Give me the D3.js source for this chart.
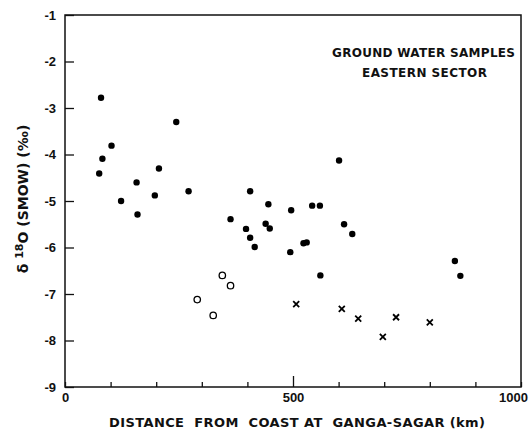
<!DOCTYPE html>
<html>
<head>
<meta charset="utf-8">
<script src="https://cdn.jsdelivr.net/npm/d3@7"></script>
<style>
  html, body { margin: 0; padding: 0; background: #fff; }
  svg { display: block; font-family: "DejaVu Sans", "Liberation Sans", sans-serif; }
</style>
</head>
<body>
<div id="chart"></div>
<script>
// delta-18O of eastern sector ground water against distance from the coast
var filledDist = [79, 244, 102, 82, 75, 206, 157, 197, 271, 123, 159, 406, 363, 397, 440, 449,
  446, 496, 406, 601, 542, 559, 416, 494, 523, 530, 612, 630, 560, 855, 867];
var filledO18 = [-2.78, -3.30, -3.81, -4.09, -4.41, -4.30, -4.60, -4.88, -4.79, -5.00, -5.29, -4.79,
  -5.39, -5.60, -5.49, -5.59, -5.07, -5.20, -5.79, -4.13, -5.10, -5.10, -5.99, -6.10, -5.91, -5.89,
  -5.50, -5.71, -6.60, -6.29, -6.61];

var openDist = [290, 325, 345, 363];
var openO18 = [-7.12, -7.46, -6.60, -6.82];

var crossDist = [507, 607, 643, 697, 726, 800];
var crossO18 = [-7.22, -7.32, -7.53, -7.92, -7.50, -7.61];

var yTicks = [-1, -2, -3, -4, -5, -6, -7, -8, -9];
var xTicks = [0, 100, 200, 300, 400, 500, 600, 700, 800, 900, 1000];
var xLabelled = [0, 500, 1000];

(function () {
  "use strict";

  var width = 532, height = 438;
  var margin = { top: 15, right: 11, bottom: 51, left: 65 };
  var w = width - margin.left - margin.right;
  var h = height - margin.top - margin.bottom;

  var svg = d3.select("#chart").append("svg")
    .attr("width", width)
    .attr("height", height);

  var g = svg.append("g")
    .attr("transform", "translate(" + margin.left + "," + margin.top + ")");

  var x = d3.scaleLinear().domain([0, 1000]).range([0, w]);
  var y = d3.scaleLinear().domain([-9, -1]).range([h, 0]);

  // frame
  g.append("rect")
    .attr("width", w)
    .attr("height", h)
    .attr("fill", "none")
    .attr("stroke", "#111")
    .attr("stroke-width", 1.5);

  // y axis, ticks pointing inward
  var yAxis = g.append("g")
    .call(d3.axisLeft(y)
      .tickValues(yTicks)
      .tickSize(-9)
      .tickPadding(9)
      .tickFormat(function (d) { return "-" + Math.abs(d); }));
  yAxis.select(".domain").remove();
  yAxis.selectAll("line").attr("stroke", "#111").attr("stroke-width", 1.3);
  yAxis.selectAll("text")
    .attr("fill", "#111")
    .attr("font-size", 13)
    .attr("font-weight", "bold");

  // x axis, ticks pointing up, long tick at 500
  var xAxis = g.append("g")
    .attr("transform", "translate(0," + h + ")")
    .call(d3.axisBottom(x)
      .tickValues(xTicks)
      .tickSize(0)
      .tickPadding(6)
      .tickFormat(function (d) { return xLabelled.indexOf(d) >= 0 ? d : ""; }));
  xAxis.select(".domain").remove();
  xAxis.selectAll(".tick line")
    .attr("y2", function (d) { return d === 500 ? -11 : -5; })
    .attr("stroke", "#111")
    .attr("stroke-width", 1.3);
  xAxis.selectAll("text")
    .attr("fill", "#111")
    .attr("font-size", 13)
    .attr("font-weight", "bold")
    .attr("dx", function (d) { return d === 1000 ? -8 : 0; });

  // points
  var filled = filledDist.map(function (d, i) { return [d, filledO18[i]]; });
  var open = openDist.map(function (d, i) { return [d, openO18[i]]; });
  var cross = crossDist.map(function (d, i) { return [d, crossO18[i]]; });

  g.append("g").selectAll("circle")
    .data(filled)
    .join("circle")
    .attr("cx", function (d) { return x(d[0]); })
    .attr("cy", function (d) { return y(d[1]); })
    .attr("r", 3.2)
    .attr("fill", "#000");

  g.append("g").selectAll("circle")
    .data(open)
    .join("circle")
    .attr("cx", function (d) { return x(d[0]); })
    .attr("cy", function (d) { return y(d[1]); })
    .attr("r", 3.2)
    .attr("fill", "#fff")
    .attr("stroke", "#000")
    .attr("stroke-width", 1.3);

  g.append("g").selectAll("path")
    .data(cross)
    .join("path")
    .attr("transform", function (d) { return "translate(" + x(d[0]) + "," + y(d[1]) + ")"; })
    .attr("d", "M-3,-3L3,3M-3,3L3,-3")
    .attr("stroke", "#000")
    .attr("stroke-width", 1.8);

  // note in the top right corner
  var note = g.append("g")
    .attr("font-size", 12)
    .attr("font-weight", "bold")
    .attr("fill", "#111");
  note.append("text")
    .attr("x", 332 - margin.left).attr("y", 42)
    .attr("textLength", 183).attr("lengthAdjust", "spacing")
    .text("GROUND WATER SAMPLES");
  note.append("text")
    .attr("x", 362 - margin.left).attr("y", 62)
    .attr("textLength", 125).attr("lengthAdjust", "spacing")
    .text("EASTERN SECTOR");

  // axis titles
  svg.append("text")
    .attr("x", 109)
    .attr("y", 427)
    .attr("font-size", 13)
    .attr("font-weight", "bold")
    .attr("fill", "#111")
    .attr("textLength", 376)
    .attr("lengthAdjust", "spacing")
    .attr("xml:space", "preserve")
    .text("DISTANCE  FROM  COAST AT  GANGA-SAGAR (km)");

  var yt = svg.append("text")
    .attr("transform", "translate(28,199) rotate(-90)")
    .attr("text-anchor", "middle")
    .attr("font-size", 14)
    .attr("font-weight", "bold")
    .attr("fill", "#111");
  yt.append("tspan").text("δ ");
  yt.append("tspan").attr("font-size", 11).attr("dy", -5).text("18");
  yt.append("tspan").attr("dy", 5).text("O (SMOW) (‰)");
})();
</script>
</body>
</html>
